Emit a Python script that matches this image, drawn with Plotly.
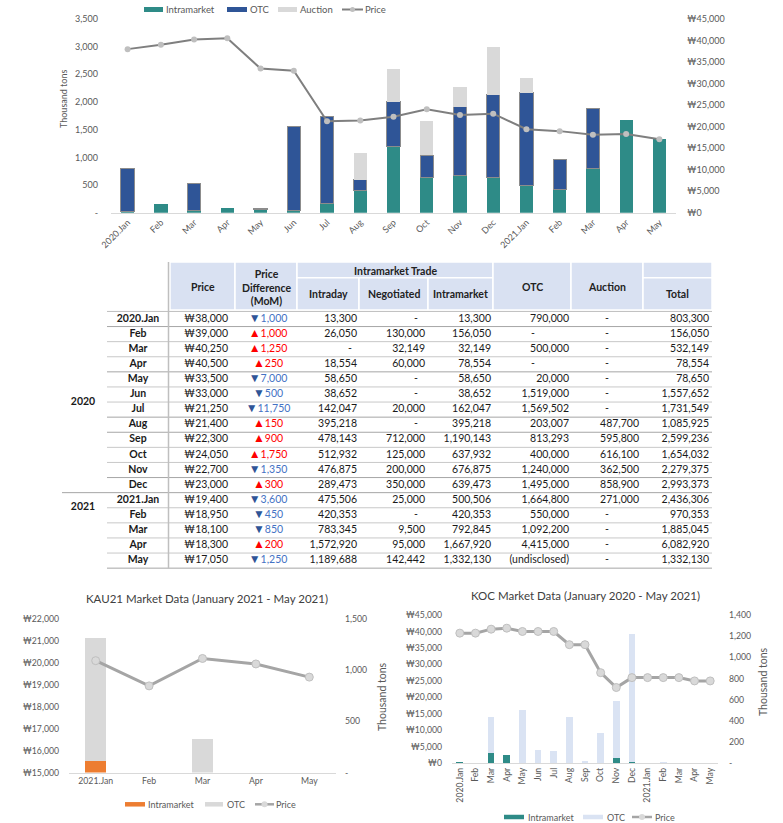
import plotly.graph_objects as go

W, H = 783, 823
def px(x):
    return x / W
def py(y):
    return 1 - y / H

FONT = "Lato"
TICK = "#595959"
TEAL = "#2E8B87"
NAVY = "#2F5597"
LGRAY = "#D9D9D9"
ORANGE = "#ED7D31"
PALEBLUE = "#DAE3F3"

# ---------------- data ----------------
months = ["2020.Jan", "Feb", "Mar", "Apr", "May", "Jun", "Jul", "Aug", "Sep", "Oct", "Nov", "Dec",
          "2021.Jan", "Feb", "Mar", "Apr", "May"]
price = [38000, 39000, 40250, 40500, 33500, 33000, 21250, 21400, 22300, 24050, 22700, 23000,
         19400, 18950, 18100, 18300, 17050]
price_diff = [-1000, 1000, 1250, 250, -7000, -500, -11750, 150, 900, 1750, -1350, 300,
              -3600, -450, -850, 200, -1250]
intraday = [13300, 26050, None, 18554, 58650, 38652, 142047, 395218, 478143, 512932, 476875, 289473,
            475506, 420353, 783345, 1572920, 1189688]
negotiated = [None, 130000, 32149, 60000, None, None, 20000, None, 712000, 125000, 200000, 350000,
              25000, None, 9500, 95000, 142442]
intramarket = [13300, 156050, 32149, 78554, 58650, 38652, 162047, 395218, 1190143, 637932, 676875, 639473,
               500506, 420353, 792845, 1667920, 1332130]
otc = [790000, None, 500000, None, 20000, 1519000, 1569502, 203007, 813293, 400000, 1240000, 1495000,
       1664800, 550000, 1092200, 4415000, "(undisclosed)"]
auction = [None, None, None, None, None, None, None, 487700, 595800, 616100, 362500, 858900,
           271000, None, None, None, None]
total = [803300, 156050, 532149, 78554, 78650, 1557652, 1731549, 1085925, 2599236, 1654032, 2279375, 2993373,
         2436306, 970353, 1885045, 6082920, 1332130]

# main chart (thousand tons), as drawn
main_intra_kt = [13.3, 156.1, 32.1, 78.6, 58.7, 38.7, 162.0, 395.2, 1190.1, 637.9, 676.9, 639.5,
                 500.5, 420.4, 792.8, 1667.9, 1332.1]
main_otc_kt = [790.0, None, 500.0, None, 20.0, 1519.0, 1569.5, 203.0, 813.3, 400.0, 1240.0, 1495.0,
               1664.8, 550.0, 1092.2, None, None]
main_auction_kt = [None, None, None, None, None, None, None, 487.7, 595.8, 616.1, 362.5, 858.9,
                   271.0, None, None, None, None]

# KAU21 chart
kau_months = ["2021.Jan", "Feb", "Mar", "Apr", "May"]
kau_intra_kt = [115, None, None, None, None]
kau_otc_kt = [1195, None, 330, None, None]
kau_price = [20100, 18950, 20200, 19950, 19350]

# KOC chart
koc_intra_kt = [15, None, 94, 78, None, None, None, None, None, None, 50, 15,
                None, None, None, None, None]
koc_otc_kt = [None, None, 346, None, 503, 123, 116, 434, 20, 283, 540, 1205,
              None, 10, None, None, None]
koc_price = [39500, 39500, 40700, 41000, 40000, 40000, 40000, 36000, 36000, 27500, 23000, 26000,
             26000, 26000, 26000, 25000, 25000]

legend_main = ["Intramarket", "OTC", "Auction", "Price"]
legend_small = ["Intramarket", "OTC", "Price"]

idx = list(range(len(months)))
kidx = list(range(len(kau_months)))

fig = go.Figure()

# ---------------- main chart ----------------
fig.add_bar(x=idx, y=main_intra_kt, name="Intramarket", marker=dict(color=TEAL, line=dict(width=0)),
            width=0.4, xaxis="x", yaxis="y")
fig.add_bar(x=idx, y=main_otc_kt, name="OTC", marker=dict(color=NAVY, line=dict(color="#8C8C8C", width=1)),
            width=0.4, xaxis="x", yaxis="y")
fig.add_bar(x=idx, y=main_auction_kt, name="Auction", marker=dict(color=LGRAY, line=dict(width=0)),
            width=0.4, xaxis="x", yaxis="y")
fig.add_scatter(x=idx, y=price, name="Price", mode="lines+markers",
                line=dict(color="#7F7F7F", width=2),
                marker=dict(color="#BFBFBF", size=6, line=dict(width=0)),
                xaxis="x", yaxis="y2")

# ---------------- KAU21 chart ----------------
fig.add_bar(x=kidx, y=kau_intra_kt, name="Intramarket", marker=dict(color=ORANGE, line=dict(width=0)),
            width=0.4, xaxis="x2", yaxis="y3")
fig.add_bar(x=kidx, y=kau_otc_kt, name="OTC", marker=dict(color=LGRAY, line=dict(width=0)),
            width=0.4, xaxis="x2", yaxis="y3")
fig.add_scatter(x=kidx, y=kau_price, name="Price", mode="lines+markers",
                line=dict(color="#A5A5A5", width=3),
                marker=dict(color="#D9D9D9", size=8, line=dict(color="#BFBFBF", width=1)),
                xaxis="x2", yaxis="y4")

# ---------------- KOC chart ----------------
fig.add_bar(x=idx, y=koc_intra_kt, name="Intramarket", marker=dict(color=TEAL, line=dict(width=0)),
            width=0.43, xaxis="x3", yaxis="y5")
fig.add_bar(x=idx, y=koc_otc_kt, name="OTC", marker=dict(color=PALEBLUE, line=dict(width=0)),
            width=0.43, xaxis="x3", yaxis="y5")
fig.add_scatter(x=idx, y=koc_price, name="Price", mode="lines+markers",
                line=dict(color="#A5A5A5", width=3),
                marker=dict(color="#D9D9D9", size=8, line=dict(color="#BFBFBF", width=1)),
                xaxis="x3", yaxis="y6")

# ---------------- table (pixel-unit axis) ----------------
ROW0, ROWH = 319.0, 15.1
rows_y = [ROW0 + ROWH * i for i in idx]
TXT = "#1a1a1a"
TF = 10.5

def fmt(v):
    if isinstance(v, str):
        return v
    return f"{v:,}"

def add_col(values, right_x, dash_x=None, color=TXT):
    xs, ys, ts = [], [], []
    dx, dy = [], []
    for i, v in enumerate(values):
        if v is None:
            if dash_x is not None:
                dx.append(dash_x); dy.append(rows_y[i])
        else:
            xs.append(right_x); ys.append(rows_y[i]); ts.append(fmt(v))
    fig.add_scatter(x=xs, y=ys, text=ts, mode="text", textposition="middle left",
                    textfont=dict(family=FONT, size=TF, color=color), showlegend=False,
                    hoverinfo="skip", cliponaxis=False, xaxis="x4", yaxis="y7")
    if dx:
        fig.add_scatter(x=dx, y=dy, text=["-"] * len(dx), mode="text", textposition="middle center",
                        textfont=dict(family=FONT, size=TF, color=color), showlegend=False,
                        hoverinfo="skip", cliponaxis=False, xaxis="x4", yaxis="y7")

# month labels
fig.add_scatter(x=[138] * len(months), y=rows_y, text=months, mode="text", textposition="middle center",
                textfont=dict(family=FONT, size=TF, color=TXT, weight="bold"), showlegend=False,
                hoverinfo="skip", cliponaxis=False, xaxis="x4", yaxis="y7")
# year labels
fig.add_scatter(x=[83, 83], y=[rows_y[5] + ROWH * 0.55, (rows_y[12] + rows_y[13]) / 2],
                text=["2020", "2021"], mode="text", textposition="middle center",
                textfont=dict(family=FONT, size=TF, color=TXT, weight="bold"), showlegend=False,
                hoverinfo="skip", cliponaxis=False, xaxis="x4", yaxis="y7")
# price
fig.add_scatter(x=[228] * len(price), y=rows_y, text=[f"₩{p:,}" for p in price], mode="text",
                textposition="middle left", textfont=dict(family=FONT, size=TF, color=TXT), showlegend=False,
                hoverinfo="skip", cliponaxis=False, xaxis="x4", yaxis="y7")
# price difference
def diff_text(d):
    if d > 0:
        return "<span style='font-size:12px;color:#FF0000'>▲</span>" + f"{abs(d):,}"
    return "<span style='font-size:12px;color:#2F5597'>▼</span>" + f"{abs(d):,}"
fig.add_scatter(x=[268] * len(price_diff), y=rows_y,
                text=[diff_text(d) for d in price_diff], mode="text",
                textposition="middle center",
                textfont=dict(family=FONT, size=TF, color=["#FF0000" if d > 0 else "#4472C4" for d in price_diff]),
                showlegend=False, hoverinfo="skip", cliponaxis=False, xaxis="x4", yaxis="y7")
add_col(intraday, 357, 350)
add_col(negotiated, 425, 416)
add_col(intramarket, 491)
add_col(otc, 569, 533)
add_col(auction, 639, 607)
add_col(total, 709)

shapes = []
HDR_T, HDR_M, HDR_B = 262, 277.7, 310
HB = "#D9E1F2"
def hrect(x0, x1, y0, y1):
    shapes.append(dict(type="rect", xref="x4", yref="y7", x0=x0, x1=x1, y0=y0, y1=y1,
                       fillcolor=HB, line=dict(color="white", width=1.5), layer="below"))
hrect(170, 235, HDR_T, HDR_B)
hrect(235, 297, HDR_T, HDR_B)
hrect(297, 493, HDR_T, HDR_M)
hrect(297, 359, HDR_M, HDR_B)
hrect(359, 428, HDR_M, HDR_B)
hrect(428, 493, HDR_M, HDR_B)
hrect(493, 571, HDR_T, HDR_B)
hrect(571, 643, HDR_T, HDR_B)
hrect(643, 712, HDR_T, HDR_M)
hrect(643, 712, HDR_M, HDR_B)

# row separator lines
shapes.append(dict(type="line", xref="x4", yref="y7", x0=107, x1=712, y0=ROW0 - ROWH / 2, y1=ROW0 - ROWH / 2,
                   line=dict(color="#BFBFBF", width=1)))
for i in idx:
    yb = rows_y[i] + ROWH / 2
    x0 = 62 if i == 11 else 107
    col = "#A6A6A6" if i in (0, 3, 6, 7, 10, 11, 16) else "#C8C8C8"
    shapes.append(dict(type="line", xref="x4", yref="y7", x0=x0, x1=712, y0=yb, y1=yb,
                       line=dict(color=col, width=1)))
shapes.append(dict(type="line", xref="x4", yref="y7", x0=168.5, x1=168.5, y0=HDR_T, y1=rows_y[-1] + ROWH / 2,
                   line=dict(color="#BFBFBF", width=1.5)))

annotations = []
def hdr(text, x, y):
    annotations.append(dict(text=text, x=x, y=y, xref="x4", yref="y7", showarrow=False,
                            font=dict(family=FONT, size=TF, color="#222222", weight="bold"),
                            xanchor="center", yanchor="middle"))
hdr("Price", 202.5, 287)
hdr("Price<br>Difference<br>(MoM)", 266, 287)
hdr("Intramarket Trade", 395, 270.5)
hdr("Intraday", 328, 294)
hdr("Negotiated", 393.5, 294)
hdr("Intramarket", 460.5, 294)
hdr("OTC", 532, 287)
hdr("Auction", 607, 287)
hdr("Total", 677.5, 294)

def pann(text, x, y, size, color, angle=0, xanchor="center"):
    return dict(text=text, x=px(x), y=py(y), xref="paper", yref="paper", showarrow=False, textangle=angle,
                xanchor=xanchor, yanchor="middle", font=dict(family=FONT, size=size, color=color))

annotations += [
    pann("Thousand tons", 63, 99, 9, TICK, -90),
    pann("KAU21 Market Data (January 2021 - May 2021)", 207.5, 598, 11.5, "#404040"),
    pann("KOC Market Data (January 2020 - May 2021)", 585, 595, 11.5, "#404040"),
    pann("Thousand tons", 382, 697, 10.5, TICK, -90),
    pann("Thousand tons", 763, 682, 10.5, TICK, -90),
]

# ---------------- hand-drawn legends (flat swatches as in the reference) ----------------
def legend_row(names, kinds, colors, xs, yc, sw, sh, fs, line_col="#A5A5A5", lw=2.5, mk=6):
    for name, kind, col, (x0, x1, tx) in zip(names, kinds, colors, xs):
        if kind == "bar":
            shapes.append(dict(type="rect", xref="paper", yref="paper", x0=px(x0), x1=px(x1),
                               y0=py(yc + sh / 2), y1=py(yc - sh / 2), fillcolor=col, line=dict(width=0)))
        else:
            shapes.append(dict(type="line", xref="paper", yref="paper", x0=px(x0), x1=px(x1),
                               y0=py(yc), y1=py(yc), line=dict(color=line_col, width=lw)))
            xm = (x0 + x1) / 2
            shapes.append(dict(type="circle", xref="paper", yref="paper", x0=px(xm - mk / 2), x1=px(xm + mk / 2),
                               y0=py(yc + mk / 2), y1=py(yc - mk / 2), fillcolor=col,
                               line=dict(color=col, width=0)))
        annotations.append(pann(name, tx, yc, fs, TICK, xanchor="left"))

legend_row(legend_main, ["bar", "bar", "bar", "line"], [TEAL, NAVY, LGRAY, "#BFBFBF"],
           [(144, 163, 164), (227, 247, 248), (278, 297, 298), (342, 363, 363)],
           9.5, 20, 5, 9.5, line_col="#7F7F7F", lw=2, mk=5)
legend_row(legend_small, ["bar", "bar", "line"], [ORANGE, LGRAY, "#D9D9D9"],
           [(125, 145, 145.5), (205, 223, 225), (255, 274, 274)],
           804.3, 20, 4.5, 9, line_col="#A5A5A5", lw=2.5, mk=6)
legend_row(legend_small, ["bar", "bar", "line"], [TEAL, PALEBLUE, "#D9D9D9"],
           [(504, 524, 525.5), (583, 603, 604.5), (632, 652, 652.5)],
           817, 20, 4.5, 9, line_col="#A5A5A5", lw=2.5, mk=6)

tickf = dict(family=FONT, size=9, color=TICK)
tickf_s = dict(family=FONT, size=8.7, color=TICK)

fig.update_layout(
    width=W, height=H, autosize=False,
    margin=dict(l=0, r=0, t=0, b=0, autoexpand=False),
    paper_bgcolor="white", plot_bgcolor="rgba(0,0,0,0)",
    barmode="stack", showlegend=False,
    font=dict(family=FONT, color=TICK),
    shapes=shapes, annotations=annotations,
    # main
    xaxis=dict(domain=[px(111), px(676)], anchor="y", range=[-0.5, 16.5], tickmode="array",
               tickvals=idx, ticktext=months, tickangle=-45, tickfont=tickf, showgrid=False,
               showline=True, linecolor=LGRAY, ticks="", zeroline=False),
    yaxis=dict(domain=[py(212.7), py(19)], anchor="x", range=[0, 3500], tickmode="array",
               tickvals=[0, 500, 1000, 1500, 2000, 2500, 3000, 3500],
               ticktext=["-", "500", "1,000", "1,500", "2,000", "2,500", "3,000", "3,500"],
               tickfont=tickf, showgrid=False, zeroline=False, ticks="", ticklabelstandoff=12),
    yaxis2=dict(overlaying="y", side="right", anchor="x", range=[0, 45000], dtick=5000,
                tickprefix="₩", tickformat=",d", tickfont=tickf, showgrid=False, zeroline=False,
                ticks="", ticklabelstandoff=10),
    # KAU21
    xaxis2=dict(domain=[px(69), px(336)], anchor="y3", range=[-0.5, 4.5], tickmode="array",
                tickvals=kidx, ticktext=kau_months, tickfont=tickf_s, showgrid=False,
                showline=True, linecolor=LGRAY, ticks="", zeroline=False),
    yaxis3=dict(domain=[py(772.5), py(619)], anchor="x2", side="right", range=[0, 1500], tickmode="array",
                tickvals=[0, 500, 1000, 1500], ticktext=["-", "500", "1,000", "1,500"],
                tickfont=tickf_s, showgrid=False, zeroline=False, ticks="", ticklabelstandoff=8),
    yaxis4=dict(overlaying="y3", side="left", anchor="x2", range=[15000, 22000], dtick=1000,
                tickprefix="₩", tickformat=",d", tickfont=tickf_s, showgrid=False, zeroline=False,
                ticks="", ticklabelstandoff=9),
    # KOC
    xaxis3=dict(domain=[px(452), px(718)], anchor="y5", range=[-0.5, 16.5], tickmode="array",
                tickvals=idx, ticktext=months, tickangle=-90, tickfont=tickf_s, showgrid=False,
                showline=True, linecolor=LGRAY, ticks="", zeroline=False),
    yaxis5=dict(domain=[py(763.3), py(615)], anchor="x3", side="right", range=[0, 1400], tickmode="array",
                tickvals=[0, 200, 400, 600, 800, 1000, 1200, 1400],
                ticktext=["-", "200", "400", "600", "800", "1,000", "1,200", "1,400"],
                tickfont=tickf_s, showgrid=False, zeroline=False, ticks="", ticklabelstandoff=10),
    yaxis6=dict(overlaying="y5", side="left", anchor="x3", range=[0, 45000], dtick=5000,
                tickprefix="₩", tickformat=",d", tickfont=tickf_s, showgrid=False, zeroline=False,
                ticks="", ticklabelstandoff=9),
    # table
    xaxis4=dict(domain=[0, 1], anchor="y7", range=[0, W], visible=False, fixedrange=True),
    yaxis7=dict(domain=[py(575), py(250)], anchor="x4", range=[575, 250], visible=False, fixedrange=True),
)

fig.write_html("out.html", config={"displayModeBar": False},
               post_script="document.body.style.margin='0';")
